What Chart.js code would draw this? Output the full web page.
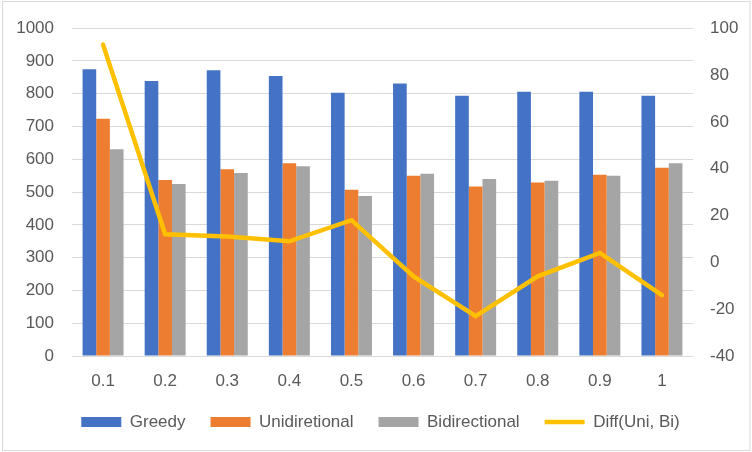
<!DOCTYPE html>
<html>
<head>
<meta charset="utf-8">
<title>Greedy vs Unidiretional vs Bidirectional</title>
<script src="https://cdn.jsdelivr.net/npm/chart.js@4.4.1/dist/chart.umd.min.js"></script>
<style>
    html, body { margin: 0; padding: 0; background: #ffffff; }
    #chart { display: block; }
</style>
</head>
<body>
<canvas id="chart" width="752" height="452"></canvas>
<script>
// Chart data
const categories = ['0.1', '0.2', '0.3', '0.4', '0.5', '0.6', '0.7', '0.8', '0.9', '1'];
const greedy = [875, 839, 872, 854, 803, 831, 794, 806, 806, 794];
const unidiretional = [724, 537, 570, 588, 507, 550, 517, 529, 553, 574];
const bidirectional = [631, 525, 558, 579, 488, 556, 540, 535, 550, 588];
const diffUniBi = [93, 12, 11, 9, 18, -6, -23, -6, 4, -14];

// Axis ranges
const leftTicks = { min: 0, max: 1000, step: 100 };
const rightTicks = { min: -40, max: 100, step: 20 };

const TEXT_COLOR = '#595959';
const GRID_COLOR = '#d9d9d9';
const FONT = { family: "'Liberation Sans', Arial, sans-serif", size: 17 };

// White background + light grey chart border, like an Excel chart area
const chartAreaBorder = {
    id: 'chartAreaBorder',
    beforeDraw(chart) {
        const ctx = chart.ctx;
        ctx.save();
        ctx.fillStyle = '#ffffff';
        ctx.fillRect(0, 0, chart.width, chart.height);
        ctx.strokeStyle = GRID_COLOR;
        ctx.lineWidth = 1;
        ctx.strokeRect(2.5, 1.5, 747.5, 449);
        ctx.restore();
    }
};

function setupChart() {
    const ctx = document.getElementById('chart').getContext('2d');
    return new Chart(ctx, {
        type: 'bar',
        data: {
            labels: categories,
            datasets: [
                {
                    label: 'Greedy',
                    data: greedy,
                    backgroundColor: '#4472c4',
                    pointStyle: 'rect',
                    yAxisID: 'y',
                    order: 1
                },
                {
                    label: 'Unidiretional',
                    data: unidiretional,
                    backgroundColor: '#ed7d31',
                    pointStyle: 'rect',
                    yAxisID: 'y',
                    order: 1
                },
                {
                    label: 'Bidirectional',
                    data: bidirectional,
                    backgroundColor: '#a5a5a5',
                    pointStyle: 'rect',
                    yAxisID: 'y',
                    order: 1
                },
                {
                    type: 'line',
                    label: 'Diff(Uni, Bi)',
                    data: diffUniBi,
                    borderColor: '#ffc000',
                    backgroundColor: '#ffc000',
                    borderWidth: 4.5,
                    borderCapStyle: 'round',
                    borderJoinStyle: 'miter',
                    pointRadius: 0,
                    pointStyle: 'line',
                    tension: 0,
                    fill: false,
                    yAxisID: 'y1',
                    order: 0
                }
            ]
        },
        options: {
            responsive: false,
            animation: false,
            categoryPercentage: 0.66,
            barPercentage: 1,
            layout: {
                padding: { top: 25, left: 9, right: 0, bottom: 11.5 }
            },
            plugins: {
                tooltip: { enabled: false },
                legend: {
                    display: true,
                    position: 'bottom',
                    maxHeight: 60,
                    labels: {
                        usePointStyle: true,
                        pointStyleWidth: 40,
                        boxHeight: 10,
                        padding: 25,
                        color: TEXT_COLOR,
                        font: FONT,
                        sort: (a, b) => a.datasetIndex - b.datasetIndex
                    }
                }
            },
            scales: {
                x: {
                    grid: { display: false },
                    border: { display: false },
                    ticks: { color: TEXT_COLOR, font: FONT, padding: 7, maxRotation: 0 },
                    afterFit: (scale) => { scale.height = 32.5; }
                },
                y: {
                    position: 'left',
                    min: leftTicks.min,
                    max: leftTicks.max,
                    grid: { color: GRID_COLOR, lineWidth: 1, drawTicks: false },
                    border: { display: false },
                    ticks: {
                        stepSize: leftTicks.step,
                        color: TEXT_COLOR,
                        font: FONT,
                        padding: 18,
                        callback: (value) => String(value)
                    },
                    afterFit: (scale) => { scale.width = 63; }
                },
                y1: {
                    position: 'right',
                    min: rightTicks.min,
                    max: rightTicks.max,
                    grid: { display: false, drawTicks: false },
                    border: { display: false },
                    ticks: {
                        stepSize: rightTicks.step,
                        color: TEXT_COLOR,
                        font: FONT,
                        padding: 17,
                        callback: (value) => String(value)
                    },
                    afterFit: (scale) => { scale.width = 59; }
                }
            }
        },
        plugins: [chartAreaBorder]
    });
}

document.addEventListener('DOMContentLoaded', () => {
    setupChart();
});
</script>
</body>
</html>
